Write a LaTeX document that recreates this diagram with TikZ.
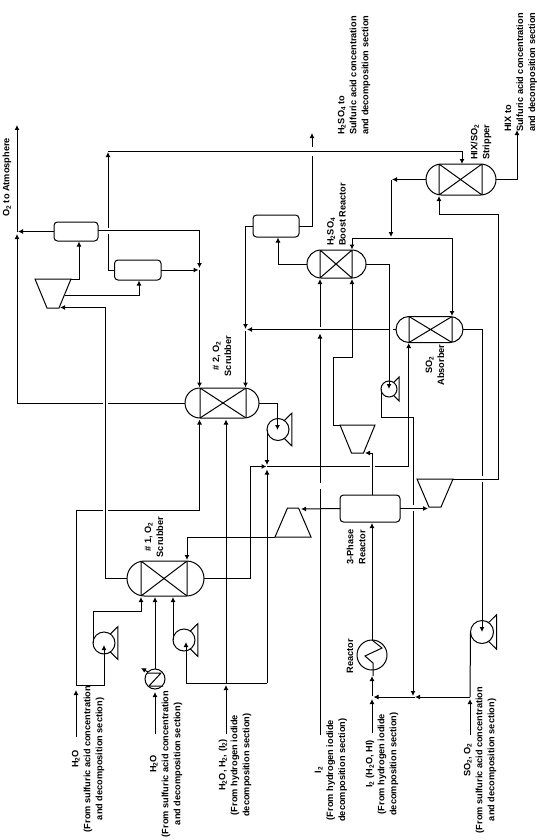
\documentclass[tikz,border=0pt]{standalone}
\usepackage{fontspec}
\setmainfont{Liberation Sans}
\usetikzlibrary{arrows.meta,calc,shapes.misc}
\tikzset{
  pipe/.style={line width=1pt,line join=miter},
  flow/.style={pipe,-{Latex[length=5pt,width=5pt]}},
  drum/.style={draw,line width=1pt,rounded corners=3.5pt,inner sep=0pt,outer sep=0pt},
  column/.style 2 args={rounded rectangle,draw,line width=1pt,inner sep=0pt,outer sep=0pt,
    path picture={\draw[line width=1pt]
      ([xshift=#1 pt]path picture bounding box.north west) --
      ([xshift=#1 pt]path picture bounding box.south west) --
      ([xshift=-#2 pt]path picture bounding box.north east) --
      ([xshift=-#2 pt]path picture bounding box.south east) -- cycle;}},
  pumpc/.style={circle,draw,line width=1pt,inner sep=0pt,outer sep=0pt},
  compbox/.style={inner sep=0pt,outer sep=0pt},
  lbl/.style={rotate=90,font=\fontsize{9.2}{12}\selectfont\bfseries,inner sep=0pt,align=center},
  lbll/.style={lbl,align=left,anchor=west}
}
\newcommand{\pumpunit}[4]{%
  \node[pumpc,minimum size={2*#4}] (#1) at (#2,#3) {};
  \draw[pipe] (#1.55) -- ($(#1.center)+({1.27*#4},{-1.5*#4})$) -- ($(#1.center)+({1.27*#4},{1.5*#4})$) -- (#1.-55);}
\newcommand{\compwide}[6]{%
  \node[compbox,minimum width=#4,minimum height=#5] (#1) at (#2,#3) {};
  \draw[pipe] (#1.north west) -- (#1.north east) -- ([xshift=-#6 pt]#1.south east) -- ([xshift=#6 pt]#1.south west) -- cycle;}
\newcommand{\compnarrow}[6]{%
  \node[compbox,minimum width=#4,minimum height=#5] (#1) at (#2,#3) {};
  \draw[pipe] (#1.south west) -- (#1.south east) -- ([xshift=-#6 pt]#1.north east) -- ([xshift=#6 pt]#1.north west) -- cycle;}
\begin{document}
\begin{tikzpicture}[x=1pt,y=-1pt]
\useasboundingbox (0,0) rectangle (537,840);
% vessels
\node[drum,minimum width=44,minimum height=19] (dA) at (76,231.5) {};
\node[drum,minimum width=46.5,minimum height=20] (dB) at (137.75,270) {};
\node[drum,minimum width=46,minimum height=22] (dC) at (276,226) {};
\node[drum,minimum width=60,minimum height=27] (dR) at (370,508.5) {};
\node[column={15}{13},minimum width=74,minimum height=30] (c2) at (222,403) {};
\node[column={14}{17},minimum width=77,minimum height=35] (c1) at (165.5,578.5) {};
\node[column={13}{14},minimum width=59,minimum height=28] (cB) at (336.5,264) {};
\node[column={13}{11},minimum width=67,minimum height=26] (cA) at (429.5,329.5) {};
\node[column={13}{14},minimum width=70,minimum height=31] (cS) at (461,179.5) {};
% compressors
\compwide{kU}{53}{293.5}{36}{29}{12}
\compwide{kM}{357.5}{439}{35}{28}{11.5}
\compwide{kS}{435}{493}{36}{28}{12}
\compnarrow{kL}{293}{522.5}{36}{29}{12.5}
% pumps
\pumpunit{pT}{278}{429.5}{11}
\pumpunit{pW}{104}{643}{11}
\pumpunit{pR}{184}{640}{11}
\pumpunit{pA}{389}{389}{8}
\pumpunit{pF}{482}{632}{11.5}
% exchangers
\node[pumpc,minimum size=20] (hE) at (155,679) {};
\node[pumpc,minimum size=30] (hR) at (372,655) {};
\coordinate (hEtop) at (155,669);
\coordinate (hRtop) at (372,640);
\draw[pipe] (147,673) -- (161,673) -- (149,686) -- (163,686);
\draw[flow] (hE.135) -- (141,668);
\draw[pipe] (hRtop) -- (382,648) -- (365,656) -- (373,663) -- (373,676);
% terminals
\coordinate (oTip) at (17,125);
\coordinate (oJ) at (17,232);
\coordinate (sep) at (199.5,270);
\coordinate (rec) at (108,151);
\coordinate (stripIn) at (462,164);
\coordinate (hix) at (517,130);
\coordinate (acid) at (312,133);
\coordinate (wJ) at (76,685);
\coordinate (mixJ) at (267,683);
\coordinate (split) at (452,238);
\coordinate (sJ) at (470,697);
\coordinate (iJ) at (372,697);
% top region
\draw[flow] (oJ) -- (oTip);
\draw[flow] (dA.west) -- (18,231.5);
\draw[pipe] (c2.west) -- (108,403);
\draw[flow] (102.5,403) -| (17,234);
\draw[flow] ([yshift=1.5pt]dA.east) -| (199.5,268);
\draw[flow] (dB.east) -- (198.5,270);
\draw[flow] (sep) -- (199.5,387.5);
\draw[pipe] (dB.west) -| (108,234);
\draw[flow] (108,228) -- (108,152);
\draw[flow] (rec) -| (stripIn);
\draw[flow] (kU.north east) -- (79,279) -- (79,241.5);
\draw[flow] (65,295) -- (139,295) -- (139,280.5);
\draw[flow] (c1.west) -- (105,578.5) -- (105,307.5) -- (60,307.5);
\draw[pipe] (dC.east) -| (312,156);
\draw[flow] (312,147) -- (acid);
\draw[flow] (dC.west) -| (245.5,329);
\draw[flow] (245.5,331) -- (245.5,387.5);
\draw[flow] (cB.west) -- (278,264) -- (278,237.5);
\draw[flow] (cB.east) -- (389,264) -- (pA.center);
\draw[pipe] (cA.west) -- (393,329.5);
\draw[flow] (389,329.5) -- (247,329.5);
\draw[flow] (cS.west) -- (392,179.5);
\draw[flow] (391,180) -- (391,237);
\draw[flow] (split) -| (352,249.5);
\draw[flow] (split) -- (452,316);
\draw[flow] (cS.east) -- (517,179.5) -- (hix);
% feeds to the absorber and reactor
\draw[flow] (kM.north west) -- (333,425) -- (333,357) -- (352,357) -- (352,279);
\draw[flow] (372,495) -- (372,453) -- (365,453);
\draw[flow] (dR.west) -- (301,509);
\draw[flow] (dR.east) -- (428,508.5);
\draw[flow] (hRtop) -- (372,523);
\draw[pipe] (320,735) -- (320,489);
\draw[flow] (320,483) -- (320,333.5);
\draw[flow] (320,327) -- (320,279);
\draw[flow] (c2.east) -- (277.5,403) -- (277.5,430);
\draw[flow] (pT.west) -- (267,465);
\draw[flow] (mixJ) -- (267,469.5);
\draw[flow] (mixJ) -| (186,642);
\draw[pipe] (267,466.5) -- (370,466.5);
\draw[flow] (374.5,466.5) -- (408.7,466.5) -- (408.7,343);
\draw[flow] (c1.east) -- (250.5,578.5) -- (250.5,466.5) -- (266.5,466.5);
\draw[flow] (kL.south west) -- (187,537) -- (187,560);
\draw[pipe] (pA.west) -- (381,417) -- (413,417) -- (413,505);
\draw[flow] (413,511) -- (413,696);
\draw[pipe] (cA.east) -- (482,329.5) -- (482,476);
\draw[flow] (482,482) -- (pF.center);
\draw[flow] (kS.north east) -- (498,479) -- (498,214) -- (439,214) -- (439,196);
% bottom feeds
\draw[flow] (76,737) -- (76,690);
\draw[pipe] (wJ) -- (76,510) -- (103,510);
\draw[flow] (108,510) -- (199.5,510) -- (199.5,419.5);
\draw[flow] (wJ) -| (104,645);
\draw[flow] (226,734) -- (226,685);
\draw[flow] (226,683) -- (226,419.5);
\draw[flow] (pW.west) -- (93,611) -- (141,611) -- (141,597);
\draw[flow] (pR.west) -- (173,597);
\draw[flow] (155,734) -- (155,692);
\draw[flow] (hEtop) -- (155,597);
\draw[flow] (372,733) -- (372,699);
\draw[flow] (372,696) -- (372,676);
\draw[pipe] (pF.west) -- (sJ);
\draw[flow] (470,735) -- (470,699);
\draw[flow] (sJ) -- (415,697);
\draw[flow] (415,697) -- (373.5,697);
% labels
\node[lbl] (tO) at (7,177.5) {O\textsubscript{2} to Atmosphere};
\node[lbll] (tA) at (354,135) {H\textsubscript{2}SO\textsubscript{4} to\\Sulfuric acid concentration\\and decomposition section};
\node[lbll] (tH) at (521,132) {HIX to\\Sulfuric acid concentration\\and decomposition section};
\node[lbll] (tS) at (481,160) {HIX/SO\textsubscript{2}\\Stripper};
\node[lbll] (tB) at (336.5,246) {H\textsubscript{2}SO\textsubscript{4}\\Boost Reactor};
\node[lbl] (t2) at (222,356) {\# 2, O\textsubscript{2}\\Scrubber};
\node[lbl] (t1) at (154,537) {\# 1, O\textsubscript{2}\\Scrubber};
\node[lbl] (tAb) at (435,365) {SO\textsubscript{2}\\Absorber};
\node[lbl] (t3) at (356,547) {3-Phase\\Reactor};
\node[lbl] (tR) at (350,656) {Reactor};
\node[lbl] (b1) at (88,759) {H\textsubscript{2}O\\(From sulfuric acid concentration\\and decomposition section)};
\node[lbl] (b2) at (166,764) {H\textsubscript{2}O\\(From sulfuric acid concentration\\and decomposition section)};
\node[lbl] (b3) at (235,765) {H\textsubscript{2}O, H\textsubscript{2}, (I\textsubscript{2})\\(From hydrogen iodide\\decomposition section)};
\node[lbl] (b4) at (331,770) {I\textsubscript{2}\\(From hydrogen iodide\\decomposition section)};
\node[lbl] (b5) at (382,764) {I\textsubscript{2} (H\textsubscript{2}O, HI)\\(From hydrogen iodide\\decomposition section)};
\node[lbl] (b6) at (480,760) {SO\textsubscript{2}, O\textsubscript{2}\\(From sulfuric acid concentration\\and decomposition section)};
\end{tikzpicture}
\end{document}
